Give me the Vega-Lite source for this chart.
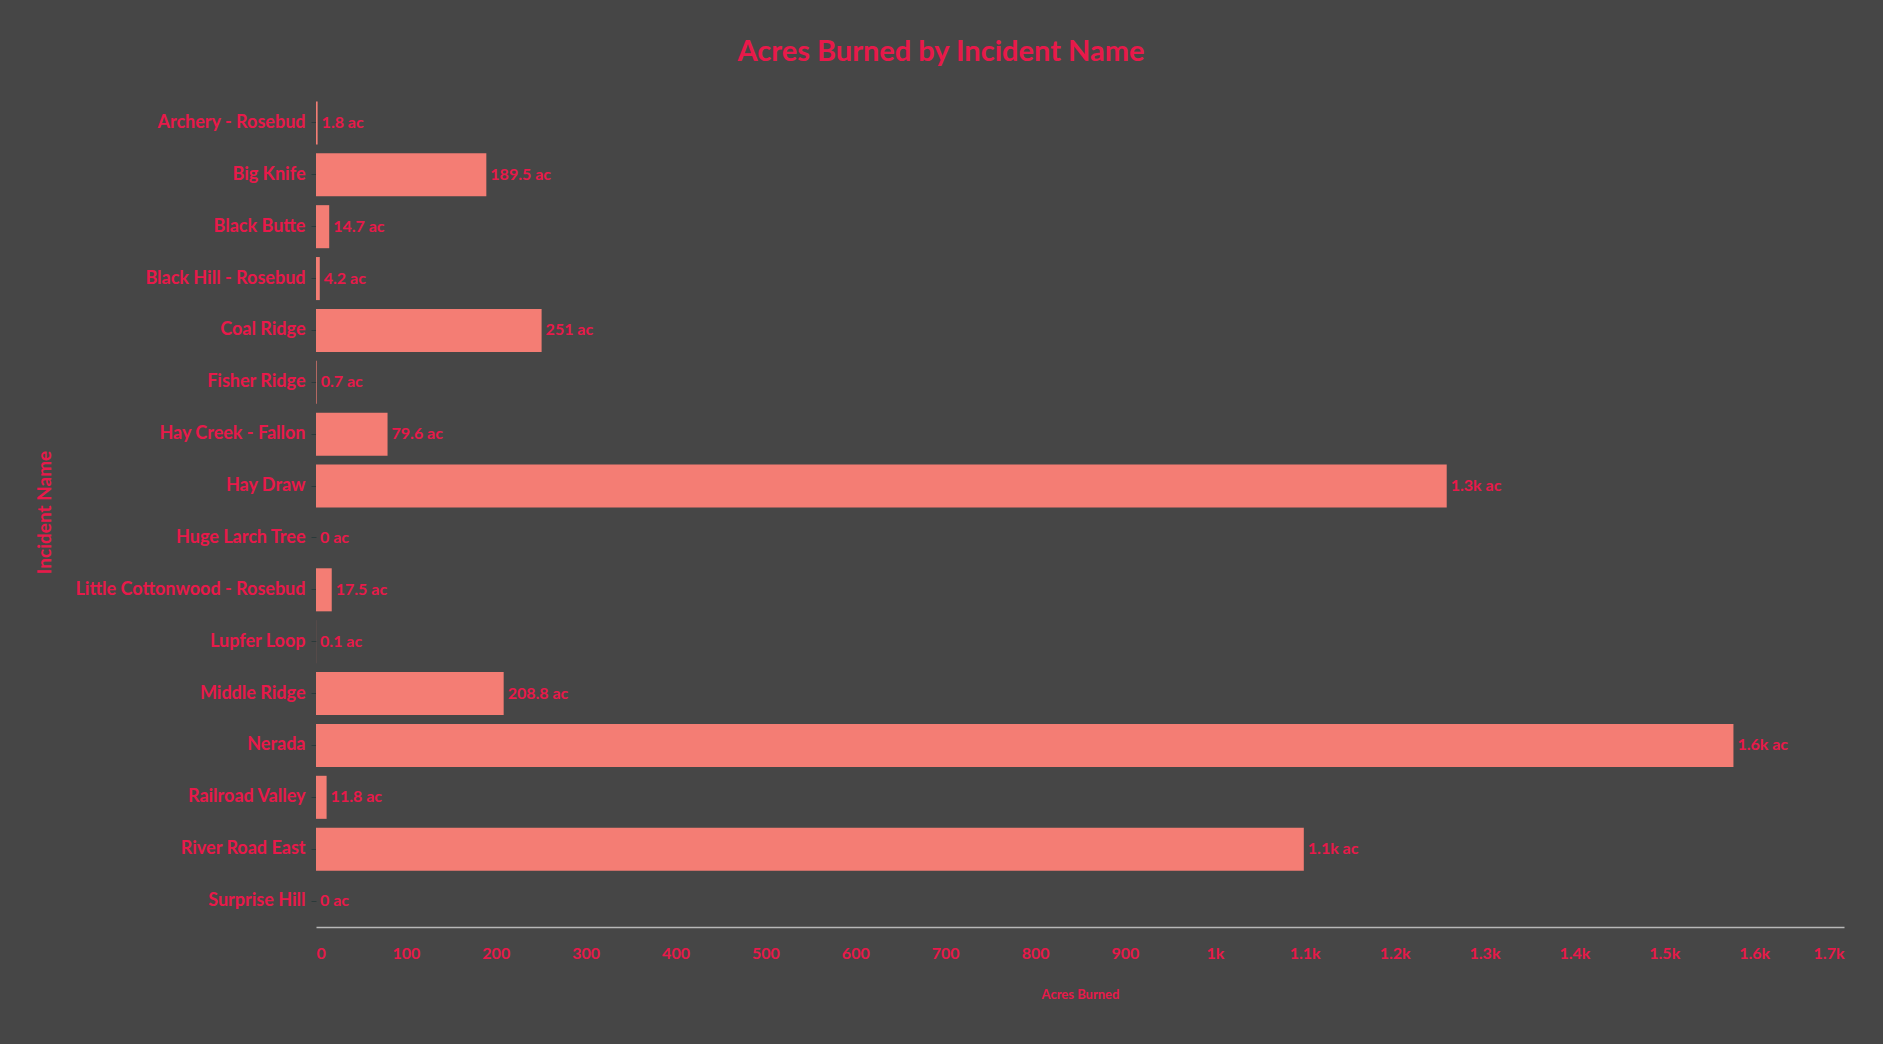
{
  "$schema": "https://vega.github.io/schema/vega-lite/v6.json",
  "autosize": "none",
  "padding": {"left": 316, "top": 97, "right": 39, "bottom": 120},
  "width": 1528,
  "height": 830,
  "background": "#464646",
  "title": {
    "text": "Acres Burned by Incident Name",
    "anchor": "middle",
    "dx": -139,
    "offset": 30,
    "font": "Lato",
    "fontSize": 29,
    "fontWeight": "bold",
    "color": "#e8194a"
  },
  "data": {
    "values": [
      {"name": "Archery - Rosebud", "acres": 1.8, "label": "1.8 ac"},
      {"name": "Big Knife", "acres": 189.5, "label": "189.5 ac"},
      {"name": "Black Butte", "acres": 14.7, "label": "14.7 ac"},
      {"name": "Black Hill - Rosebud", "acres": 4.2, "label": "4.2 ac"},
      {"name": "Coal Ridge", "acres": 251, "label": "251 ac"},
      {"name": "Fisher Ridge", "acres": 0.7, "label": "0.7 ac"},
      {"name": "Hay Creek - Fallon", "acres": 79.6, "label": "79.6 ac"},
      {"name": "Hay Draw", "acres": 1258, "label": "1.3k ac"},
      {"name": "Huge Larch Tree", "acres": 0, "label": "0 ac"},
      {"name": "Little Cottonwood - Rosebud", "acres": 17.5, "label": "17.5 ac"},
      {"name": "Lupfer Loop", "acres": 0.1, "label": "0.1 ac"},
      {"name": "Middle Ridge", "acres": 208.8, "label": "208.8 ac"},
      {"name": "Nerada", "acres": 1577, "label": "1.6k ac"},
      {"name": "Railroad Valley", "acres": 11.8, "label": "11.8 ac"},
      {"name": "River Road East", "acres": 1099, "label": "1.1k ac"},
      {"name": "Surprise Hill", "acres": 0, "label": "0 ac"}
    ]
  },
  "encoding": {
    "y": {
      "field": "name",
      "type": "nominal",
      "sort": null,
      "scale": {"paddingInner": 0.17, "paddingOuter": 0.085},
      "axis": {
        "title": "Incident Name",
        "titleFont": "Lato",
        "titleFontSize": 19,
        "titleFontWeight": "bold",
        "titleColor": "#e8194a",
        "titlePadding": 62,
        "labelFont": "Lato",
        "labelFontSize": 18,
        "labelFontWeight": "bold",
        "labelColor": "#e8194a",
        "labelPadding": 6,
        "labelLimit": 400,
        "domain": false,
        "ticks": true,
        "tickColor": "#2a3a3a",
        "tickSize": 5
      }
    }
  },
  "layer": [
    {
      "mark": {"type": "bar", "color": "#f47d74"},
      "encoding": {
        "x": {
          "field": "acres",
          "type": "quantitative",
          "scale": {"domain": [0, 1700], "nice": false},
          "axis": {
            "title": "Acres Burned",
            "titleFont": "Lato",
            "titleFontSize": 13,
            "titleFontWeight": "bold",
            "titleColor": "#e8194a",
            "titlePadding": 27,
            "values": [0, 100, 200, 300, 400, 500, 600, 700, 800, 900, 1000, 1100, 1200, 1300, 1400, 1500, 1600, 1700],
            "labelExpr": "datum.value >= 1000 ? format(datum.value / 1000, '.1~f') + 'k' : datum.label",
            "labelFont": "Lato",
            "labelFontSize": 16,
            "labelFontWeight": "bold",
            "labelColor": "#e8194a",
            "labelPadding": 18,
            "ticks": false,
            "grid": false,
            "domainColor": "#b8b8b8",
            "domainWidth": 1.5
          }
        }
      }
    },
    {
      "mark": {
        "type": "text",
        "align": "left",
        "baseline": "middle",
        "dx": 4,
        "font": "Lato",
        "fontSize": 16,
        "fontWeight": "bold",
        "color": "#e8194a"
      },
      "encoding": {
        "x": {"field": "acres", "type": "quantitative"},
        "text": {"field": "label", "type": "nominal"}
      }
    }
  ],
  "config": {
    "view": {"stroke": null}
  }
}
